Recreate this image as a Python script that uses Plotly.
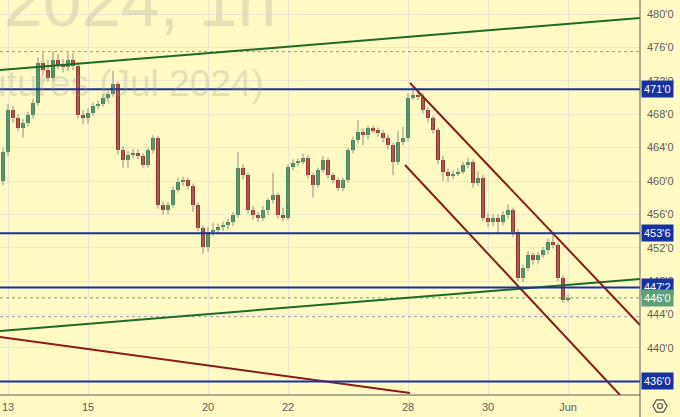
import math
import plotly.graph_objects as go

# ---------------- data (hourly-ish bars, x = bar index) ----------------
opens = [460.0, 463.5, 468.5, 467.5, 466.3, 466.9, 467.9, 469.3, 474.1, 473.3,
         472.3, 474.5, 473.9, 473.6, 474.5, 473.8, 467.9, 467.5, 468.2, 469.0,
         469.2, 470.0, 470.4, 471.6, 463.7, 462.5, 463.1, 463.4, 463.0, 461.9,
         463.7, 465.1, 457.1, 456.5, 457.1, 458.9, 459.9, 460.1, 459.4, 457.1,
         454.4, 452.1, 453.9, 454.1, 454.5, 454.7, 455.1, 455.9, 461.6, 460.7,
         456.5, 455.9, 455.6, 456.5, 457.7, 458.3, 455.9, 455.6, 461.7, 462.2,
         462.3, 462.8, 460.7, 459.5, 461.3, 462.5, 460.7, 460.1, 459.2, 460.1,
         463.7, 464.9, 465.9, 465.5, 466.3, 466.1, 465.7, 465.1, 464.3, 462.3,
         464.7, 465.1, 470.0, 470.3, 470.1, 468.5, 467.5, 466.1, 462.5, 461.1,
         460.6, 460.9, 461.1, 461.9, 462.3, 459.8, 460.4, 455.6, 455.1, 455.6,
         455.1, 455.9, 456.5, 453.9, 448.4, 449.6, 451.1, 450.5, 451.1, 451.7,
         452.7, 452.3, 448.4, 445.8]
highs = [464.0, 469.2, 469.0, 468.0, 467.4, 468.3, 469.8, 474.8, 475.4, 474.5,
         475.5, 475.2, 474.6, 475.4, 475.3, 474.2, 468.5, 468.7, 469.4, 469.6,
         470.4, 470.8, 473.2, 471.9, 464.2, 463.6, 463.8, 463.8, 463.3, 464.0,
         465.5, 465.4, 457.6, 457.5, 459.3, 460.4, 460.5, 460.4, 459.7, 457.4,
         454.7, 454.5, 455.0, 454.9, 455.1, 455.5, 456.3, 463.5, 462.0, 461.0,
         457.0, 456.3, 457.0, 458.0, 461.0, 458.6, 456.8, 462.0, 462.6, 462.7,
         463.3, 463.1, 461.0, 461.6, 463.0, 462.8, 461.0, 460.4, 460.4, 464.0,
         465.3, 467.3, 466.3, 466.6, 466.6, 466.4, 466.1, 465.6, 464.6, 466.0,
         466.5, 470.5, 471.2, 470.9, 470.5, 468.9, 467.8, 466.4, 463.0, 461.5,
         461.3, 461.5, 462.3, 462.8, 462.6, 461.2, 460.7, 456.1, 456.0, 456.0,
         456.4, 457.2, 456.8, 454.2, 450.0, 451.6, 451.4, 451.5, 452.1, 453.1,
         453.8, 452.6, 448.7, 446.4]
lows = [459.5, 463.0, 467.0, 466.0, 465.2, 466.5, 467.5, 469.0, 472.6, 471.9,
        472.0, 473.4, 473.0, 473.2, 473.3, 467.5, 466.8, 466.9, 467.8, 468.6,
        468.9, 469.6, 470.1, 463.2, 461.6, 461.6, 462.7, 462.6, 461.6, 461.6,
        463.3, 456.7, 456.0, 456.0, 456.8, 458.6, 459.4, 459.0, 456.3, 454.0,
        451.3, 451.5, 453.4, 453.7, 454.0, 454.2, 454.6, 455.6, 460.2, 456.1,
        455.4, 455.1, 455.2, 456.0, 457.3, 455.5, 455.2, 455.3, 461.3, 461.8,
        462.0, 460.3, 458.0, 459.2, 461.0, 460.3, 459.7, 458.8, 458.8, 459.8,
        463.3, 464.5, 464.3, 465.0, 465.7, 465.3, 464.6, 463.8, 460.7, 461.9,
        464.3, 464.8, 469.7, 469.7, 468.1, 467.0, 465.7, 462.0, 460.0, 459.9,
        460.2, 460.6, 460.8, 461.5, 459.2, 459.4, 455.2, 454.5, 454.6, 453.8,
        454.7, 455.5, 453.3, 448.0, 447.9, 449.2, 450.0, 450.1, 450.8, 451.2,
        451.9, 448.0, 445.4, 445.5]
closes = [463.5, 468.5, 467.5, 466.3, 466.9, 467.9, 469.3, 474.1, 473.3, 472.3,
          474.5, 473.9, 473.6, 474.5, 473.8, 467.9, 467.5, 468.2, 469.0, 469.2,
          470.0, 470.4, 471.6, 463.7, 462.5, 463.1, 463.4, 463.0, 461.9, 463.7,
          465.1, 457.1, 456.5, 457.1, 458.9, 459.9, 460.1, 459.4, 457.1, 454.4,
          452.1, 453.9, 454.1, 454.5, 454.7, 455.1, 455.9, 461.6, 460.7, 456.5,
          455.9, 455.6, 456.5, 457.7, 458.3, 455.9, 455.6, 461.7, 462.2, 462.3,
          462.8, 460.7, 459.5, 461.3, 462.5, 460.7, 460.1, 459.2, 460.1, 463.7,
          464.9, 465.9, 465.5, 466.3, 466.1, 465.7, 465.1, 464.3, 462.3, 464.7,
          465.1, 470.0, 470.3, 470.1, 468.5, 467.5, 466.1, 462.5, 461.1, 460.6,
          460.9, 461.1, 461.9, 462.3, 459.8, 460.4, 455.6, 455.1, 455.6, 455.1,
          455.9, 456.5, 453.9, 448.4, 449.6, 451.1, 450.5, 451.1, 451.7, 452.7,
          452.3, 448.4, 445.8, 446.0]

# day ticks (bar index where each labelled session begins)
day_tick_bars = [1, 17, 41, 57, 81, 97, 113]
day_tick_labels = ["13", "15", "20", "22", "28", "30", "Jun"]

price_ticks = [436, 440, 444, 448, 452, 456, 460, 464, 468, 472, 476, 480]
price_tick_labels = ["436'0", "440'0", "444'0", "448'0", "452'0", "456'0",
                     "460'0", "464'0", "468'0", "472'0", "476'0", "480'0"]

# horizontal levels
level_values = [471.0, 453.75, 447.25, 436.0]
level_labels = ["471'0", "453'6", "447'2", "436'0"]
last_price = 446.0
last_price_label = "446'0"
dotted_levels = [475.5, 443.75]

# trend lines: (bar0, price0, bar1, price1)
green_lines = [(-0.6, 473.29, 127.4, 479.52), (-0.6, 442.04, 127.4, 448.26)]
red_lines = [(-0.6, 441.32, 81.4, 434.61), (81.4, 471.74, 127.4, 442.75),
             (80.4, 461.92, 123.4, 434.37)]

X_RANGE = [-0.6, 127.4]
Y_RANGE = [434.37, 481.68]

# ---------------- styling ----------------
BG = "#fff9c4"
GRID = "#ebe7d3"
UP = "#3f8c5c"
DOWN = "#a8302b"
WICK = "#8f8f86"
BLUE = "#1632a0"
GREEN_LINE = "#1f6a24"
RED_LINE = "#8a1c1c"
FONT = "Liberation Sans, Arial"

fig = go.Figure()

# wicks
wx, wy = [], []
for i in range(len(closes)):
    wx += [i, i, None]
    wy += [lows[i], highs[i], None]
fig.add_trace(go.Scatter(x=wx, y=wy, mode="lines",
                         line=dict(color=WICK, width=1), hoverinfo="skip",
                         showlegend=False))

# bodies
xs = list(range(len(closes)))
base = [min(o, c) for o, c in zip(opens, closes)]
height = [max(abs(c - o), 0.12) for o, c in zip(opens, closes)]
cols = [UP if c >= o else DOWN for o, c in zip(opens, closes)]
fig.add_trace(go.Bar(x=xs, y=height, base=base, width=0.62,
                     marker=dict(color=cols, line=dict(width=0)),
                     showlegend=False, hoverinfo="skip"))

# dotted levels
for v in dotted_levels:
    fig.add_trace(go.Scatter(x=X_RANGE, y=[v, v], mode="lines",
                             line=dict(color="#9a9a92", width=1, dash="dot"),
                             showlegend=False, hoverinfo="skip"))
fig.add_trace(go.Scatter(x=X_RANGE, y=[last_price, last_price], mode="lines",
                         line=dict(color="#5aa77a", width=1, dash="dot"),
                         showlegend=False, hoverinfo="skip"))

# trend lines
for (a0, p0, a1, p1) in green_lines:
    fig.add_trace(go.Scatter(x=[a0, a1], y=[p0, p1], mode="lines",
                             line=dict(color=GREEN_LINE, width=2),
                             showlegend=False, hoverinfo="skip"))
for (a0, p0, a1, p1) in red_lines:
    fig.add_trace(go.Scatter(x=[a0, a1], y=[p0, p1], mode="lines",
                             line=dict(color=RED_LINE, width=2),
                             showlegend=False, hoverinfo="skip"))

# horizontal blue levels
for v in level_values:
    fig.add_trace(go.Scatter(x=X_RANGE, y=[v, v], mode="lines",
                             line=dict(color=BLUE, width=2),
                             showlegend=False, hoverinfo="skip"))

annotations = []
# watermark
annotations.append(dict(text="ZCN2024, 1h", xref="paper", yref="paper",
                        x=278 / 640, y=(395 - 2) / 395, xanchor="right", yanchor="middle",
                        showarrow=False,
                        font=dict(size=70, color="rgba(150,150,140,0.25)", family=FONT)))
annotations.append(dict(text="Corn Futures (Jul 2024)", xref="paper", yref="paper",
                        x=266 / 640, y=(395 - 83) / 395, xanchor="right", yanchor="middle",
                        showarrow=False,
                        font=dict(size=37, color="rgba(150,150,140,0.25)", family=FONT)))
# level boxes
for v, t in zip(level_values, level_labels):
    annotations.append(dict(text=t, xref="paper", yref="y", x=1, y=v,
                            xanchor="left", yanchor="middle", xshift=1,
                            showarrow=False, bgcolor=BLUE, borderpad=2,
                            font=dict(size=11, color="white", family=FONT)))
annotations.append(dict(text=last_price_label, xref="paper", yref="y", x=1,
                        y=last_price, xanchor="left", yanchor="middle", xshift=1,
                        showarrow=False, bgcolor="#5e9f7a", borderpad=2,
                        font=dict(size=11, color="white", family=FONT)))

shapes = [
    dict(type="line", xref="paper", yref="paper", x0=1, x1=1, y0=-22 / 395, y1=1,
         line=dict(color="#5a5a5a", width=1)),
    dict(type="line", xref="paper", yref="paper", x0=0, x1=1, y0=0, y1=0,
         line=dict(color="#5a5a5a", width=1)),
]
# gear icon (hexagon + circle) in the corner
cx, cy, r = 660 / 640, (395 - 406) / 395, 7
pts = []
for k in range(6):
    ang = math.radians(60 * k)
    pts.append((cx + r * math.cos(ang) / 640, cy + r * math.sin(ang) / 395))
path = "M " + " L ".join(f"{px:.5f},{py:.5f}" for px, py in pts) + " Z"
shapes.append(dict(type="path", xref="paper", yref="paper", path=path,
                   line=dict(color="#555", width=1.2)))
shapes.append(dict(type="circle", xref="paper", yref="paper",
                   x0=cx - 2.5 / 640, x1=cx + 2.5 / 640,
                   y0=cy - 2.5 / 395, y1=cy + 2.5 / 395,
                   line=dict(color="#555", width=1.2)))

fig.update_layout(
    width=680, height=417,
    margin=dict(l=0, r=40, t=0, b=22),
    paper_bgcolor=BG, plot_bgcolor=BG,
    showlegend=False, bargap=0,
    annotations=annotations, shapes=shapes,
    xaxis=dict(range=X_RANGE, tickmode="array", tickvals=day_tick_bars,
               ticktext=day_tick_labels, showgrid=True, gridcolor=GRID,
               gridwidth=1, zeroline=False, showline=False, ticks="",
               ticklabelstandoff=4,
               tickfont=dict(size=11, color="#606060", family=FONT),
               automargin=False, fixedrange=True),
    yaxis=dict(range=Y_RANGE, side="right", tickmode="array",
               tickvals=price_ticks, ticktext=price_tick_labels,
               showgrid=True, gridcolor=GRID, gridwidth=1, zeroline=False,
               showline=False, ticks="", ticklabelstandoff=6,
               tickfont=dict(size=11, color="#606060", family=FONT),
               automargin=False, fixedrange=True),
)

fig.write_html(
    "out.html",
    config={"displayModeBar": False},
    post_script="document.body.style.margin='0';document.body.style.overflow='hidden';",
)
